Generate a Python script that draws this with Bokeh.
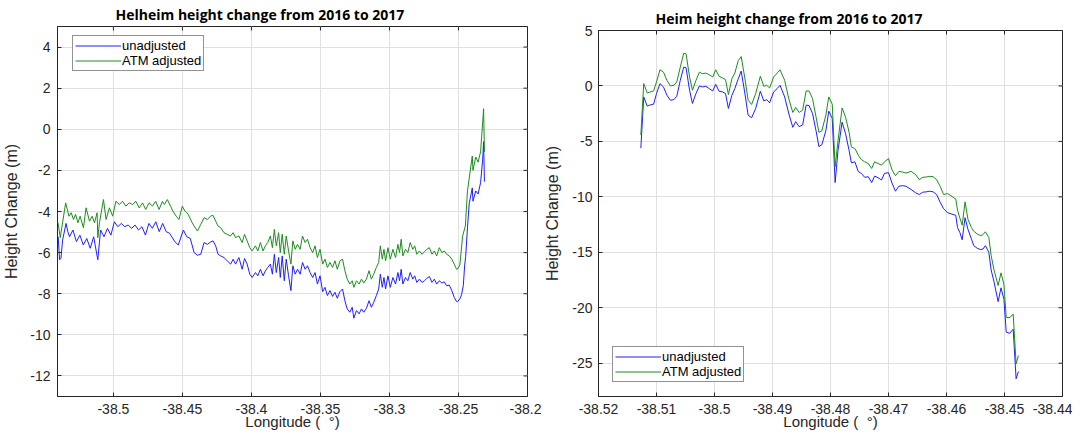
from bokeh.plotting import figure
from bokeh.layouts import row, column
from bokeh.models import FixedTicker, Legend, LegendItem, Range1d, Spacer
from bokeh.embed import file_html
from bokeh.resources import INLINE

# ---------------- data: Helheim (left) ----------------
helheim_lon_unadj = [
    -38.5400, -38.5390, -38.5380, -38.5368, -38.5343, -38.5330, -38.5318, -38.5293, -38.5268, -38.5243,
    -38.5218, -38.5193, -38.5168, -38.5143, -38.5113, -38.5093, -38.5068, -38.5043, -38.5018, -38.4993,
    -38.4968, -38.4943, -38.4918, -38.4893, -38.4868, -38.4843, -38.4818, -38.4793, -38.4768, -38.4743,
    -38.4718, -38.4693, -38.4668, -38.4643, -38.4618, -38.4593, -38.4555, -38.4530, -38.4493, -38.4468,
    -38.4443,
    -38.4415, -38.4391, -38.4367, -38.4343, -38.4319, -38.4295, -38.4278, -38.4259, -38.4242, -38.4223,
    -38.4199, -38.4175, -38.4151, -38.4132, -38.4115, -38.4091, -38.4067, -38.4050, -38.4031, -38.4012,
    -38.3995, -38.3971, -38.3954, -38.3935, -38.3916, -38.3899, -38.3882, -38.3863, -38.3848, -38.3834,
    -38.3820, -38.3803, -38.3791, -38.3777, -38.3762, -38.3748, -38.3731, -38.3714, -38.3700, -38.3683,
    -38.3666, -38.3647, -38.3630, -38.3611, -38.3594, -38.3575, -38.3556, -38.3539, -38.3522, -38.3503,
    -38.3484, -38.3467, -38.3450, -38.3431, -38.3412, -38.3395, -38.3378, -38.3359, -38.3340,
    -38.3323, -38.3306, -38.3287, -38.3270, -38.3258, -38.3239, -38.3220, -38.3203, -38.3186, -38.3167,
    -38.3148, -38.3131, -38.3114, -38.3095, -38.3078, -38.3066, -38.3052, -38.3040, -38.3028, -38.3011,
    -38.2994, -38.2975, -38.2956, -38.2939, -38.2927, -38.2915, -38.2903, -38.2884, -38.2867, -38.2850,
    -38.2831, -38.2817, -38.2802, -38.2783, -38.2764, -38.2747, -38.2730, -38.2711, -38.2692, -38.2675,
    -38.2658, -38.2639, -38.2620, -38.2603, -38.2586, -38.2567, -38.2548, -38.2531, -38.2514,
    -38.2507, -38.2490, -38.2478, -38.2465, -38.2455, -38.2448, -38.2435, -38.2422, -38.2400, -38.2395,
    -38.2375, -38.2358, -38.2340, -38.2325, -38.2318, -38.2312,
]
helheim_unadj = [
    -5.23, -6.35, -6.27, -5.39, -4.58, -4.98, -5.23, -4.90, -5.47, -5.15,
    -5.63, -5.31, -5.79, -5.23, -6.35, -4.90, -5.23, -4.82, -5.15, -4.50,
    -4.74, -4.58, -4.74, -4.66, -4.82, -4.66, -4.90, -4.74, -5.15, -4.58,
    -4.82, -4.50, -4.98, -4.58, -4.98, -5.06, -5.47, -5.63, -4.90, -5.23,
    -5.31,
    -6.00, -6.13, -6.08, -5.51, -5.60, -5.48, -5.43, -5.67, -6.08, -6.16,
    -6.24, -6.40, -6.56, -6.32, -6.56, -6.24, -6.81, -6.29, -6.56, -7.05,
    -7.21, -6.97, -7.13, -6.81, -7.13, -6.89, -6.72, -6.56, -7.05, -6.08,
    -6.97, -6.24, -7.21, -6.16, -7.37, -6.32, -7.13, -7.85, -6.64, -7.05,
    -6.81, -7.05, -6.48, -6.81, -6.64, -6.97, -7.21, -6.97, -7.53, -7.13,
    -7.90, -7.69, -8.09, -7.85, -8.13, -7.93, -8.22, -7.90, -7.77,
    -8.34, -8.74, -8.90, -8.66, -9.19, -8.82, -8.98, -8.74, -8.90, -8.71,
    -8.34, -8.66, -8.42, -8.09, -7.77, -7.05, -7.69, -7.21, -7.77, -7.13,
    -7.69, -7.21, -7.53, -6.97, -7.37, -6.81, -7.53, -7.21, -7.37, -6.97,
    -7.29, -7.13, -7.45, -7.29, -7.45, -7.37, -7.26, -7.16, -7.45, -7.29,
    -7.53, -7.37, -7.48, -7.42, -7.61, -7.58, -7.85, -8.18, -8.38,
    -8.39, -8.25, -8.05, -7.60, -6.60, -6.20, -4.80, -3.60, -2.85, -3.50,
    -3.00, -3.15, -2.60, -1.50, -0.60, -2.55,
]
helheim_lon_adj = [
    -38.5401, -38.5385, -38.5346, -38.5322, -38.5306, -38.5289, -38.5274, -38.5257, -38.5241, -38.5217,
    -38.5198, -38.5173, -38.5154, -38.5137, -38.5118, -38.5113, -38.5101, -38.5072, -38.5053, -38.5029,
    -38.5005, -38.4982, -38.4957, -38.4933, -38.4910, -38.4885, -38.4861, -38.4838, -38.4813, -38.4789,
    -38.4766, -38.4741, -38.4717, -38.4694, -38.4669, -38.4645, -38.4631, -38.4609, -38.4586, -38.4569,
    -38.4545, -38.4525, -38.4501, -38.4482, -38.4458, -38.4429,
    -38.4415, -38.4391, -38.4367, -38.4343, -38.4319, -38.4295, -38.4278, -38.4259, -38.4242, -38.4223,
    -38.4199, -38.4175, -38.4151, -38.4132, -38.4115, -38.4091, -38.4067, -38.4050, -38.4031, -38.4012,
    -38.3995, -38.3971, -38.3954, -38.3935, -38.3916, -38.3899, -38.3882, -38.3863, -38.3848, -38.3834,
    -38.3820, -38.3803, -38.3791, -38.3777, -38.3762, -38.3748, -38.3731, -38.3714, -38.3700, -38.3683,
    -38.3666, -38.3647, -38.3630, -38.3611, -38.3594, -38.3575, -38.3556, -38.3539, -38.3522, -38.3503,
    -38.3484, -38.3467, -38.3450, -38.3431, -38.3412, -38.3395, -38.3378, -38.3359, -38.3340,
    -38.3323, -38.3306, -38.3287, -38.3270, -38.3258, -38.3239, -38.3220, -38.3203, -38.3186, -38.3167,
    -38.3148, -38.3131, -38.3114, -38.3095, -38.3078, -38.3066, -38.3052, -38.3040, -38.3028, -38.3011,
    -38.2994, -38.2975, -38.2956, -38.2939, -38.2927, -38.2915, -38.2903, -38.2884, -38.2867, -38.2850,
    -38.2831, -38.2817, -38.2802, -38.2783, -38.2764, -38.2747, -38.2730, -38.2711, -38.2692, -38.2675,
    -38.2658, -38.2639, -38.2620, -38.2603, -38.2586, -38.2567, -38.2548, -38.2531, -38.2514,
    -38.2507, -38.2490, -38.2470, -38.2450, -38.2435, -38.2400, -38.2395, -38.2375, -38.2358, -38.2340,
    -38.2325, -38.2318, -38.2312,
]
helheim_adj = [
    -4.55, -5.27, -3.58, -4.23, -4.06, -4.39, -4.14, -4.55, -4.23, -4.79,
    -3.82, -4.47, -4.23, -4.55, -4.06, -5.27, -4.55, -3.42, -4.39, -3.82,
    -4.23, -3.50, -3.66, -3.50, -3.74, -3.58, -3.66, -3.50, -3.82, -3.58,
    -3.90, -3.58, -3.74, -3.50, -3.90, -3.50, -3.66, -3.42, -3.74, -3.98,
    -4.23, -4.39, -3.74, -3.98, -4.14, -4.55,
    -4.71, -4.95, -4.63, -4.30, -4.39, -4.22, -4.19, -4.47, -4.71, -4.79,
    -5.03, -5.11, -5.19, -5.03, -5.27, -5.19, -5.51, -5.11, -5.43, -5.76,
    -5.92, -5.67, -5.92, -5.51, -5.92, -5.67, -5.51, -5.19, -5.76, -4.87,
    -5.67, -5.03, -6.00, -5.11, -6.08, -5.19, -5.92, -6.56, -5.43, -5.84,
    -5.60, -5.84, -5.19, -5.51, -5.35, -5.76, -6.00, -5.67, -6.24, -5.84,
    -6.56, -6.32, -6.72, -6.48, -6.72, -6.40, -6.81, -6.40, -6.32,
    -6.88, -7.29, -7.53, -7.37, -7.69, -7.37, -7.53, -7.29, -7.48, -7.29,
    -6.88, -7.29, -7.05, -6.72, -6.48, -5.67, -6.32, -5.84, -6.40, -5.76,
    -6.32, -5.84, -6.24, -5.60, -6.00, -5.35, -6.16, -5.84, -6.00, -5.51,
    -5.84, -5.67, -6.08, -5.92, -6.08, -5.96, -5.84, -5.76, -6.08, -5.92,
    -6.16, -5.76, -6.00, -5.92, -6.08, -6.16, -6.32, -6.56, -6.81,
    -6.80, -6.60, -5.20, -4.70, -3.00, -1.30, -2.00, -1.35, -1.60, -1.10,
    0.30, 1.00, -1.10,
]
helheim_xticks = [-38.5, -38.45, -38.4, -38.35, -38.3, -38.25, -38.2]
helheim_xtick_labels = ["-38.5", "-38.45", "-38.4", "-38.35", "-38.3", "-38.25", "-38.2"]
helheim_yticks = [-12, -10, -8, -6, -4, -2, 0, 2, 4]

# ---------------- data: Heim (right) ----------------
heim_lon = [
    -38.5127, -38.5122, -38.5116, -38.5112, -38.5105, -38.5100, -38.5094, -38.5088, -38.5082, -38.5076,
    -38.5070, -38.5065, -38.5059, -38.5053, -38.5049, -38.5043, -38.5038, -38.5032, -38.5026, -38.5021,
    -38.5015, -38.5009, -38.5003, -38.4998, -38.4992, -38.4986, -38.4981, -38.4976, -38.4970, -38.4965,
    -38.4959, -38.4954, -38.4948, -38.4942, -38.4936, -38.4929, -38.4921, -38.4915, -38.4910, -38.4905,
    -38.4898, -38.4892, -38.4887, -38.4879, -38.4872, -38.4865, -38.4860, -38.4854, -38.4848, -38.4842,
    -38.4837, -38.4831, -38.4825, -38.4820, -38.4815, -38.4808, -38.4803, -38.4797,
    -38.4792, -38.4787, -38.4780, -38.4774, -38.4768, -38.4764, -38.4758, -38.4752, -38.4747, -38.4741,
    -38.4735, -38.4729, -38.4724, -38.4718, -38.4712, -38.4707, -38.4700,
    -38.4694, -38.4688, -38.4682, -38.4676, -38.4670, -38.4661, -38.4653, -38.4647, -38.4641, -38.4635,
    -38.4629, -38.4623, -38.4617, -38.4611, -38.4605,
    -38.4598, -38.4584, -38.4581, -38.4577, -38.4573, -38.4568, -38.4563, -38.4557, -38.4553, -38.4547,
    -38.4541, -38.4537, -38.4533, -38.4527, -38.4523, -38.4518, -38.4511, -38.4506, -38.4501, -38.4497,
    -38.4491, -38.4485, -38.4480, -38.4476,
]
heim_unadj = [
    -5.61, -0.99, -1.82, -1.73, -1.64, -0.69, 0.21, -0.09, -0.84, -1.29,
    -1.23, -0.93, 0.50, 1.70, 1.64, -0.39, -1.58, -0.69, 0.00, -0.09,
    -0.03, -0.24, -0.45, 0.15, -0.48, -0.54, -0.69, -2.03, -0.84, -0.24,
    0.65, 1.34, -0.54, -2.63, -2.87, -2.03, -0.48, -1.35, -1.23, -1.52,
    -0.54, -0.24, 0.06, -0.99, -2.48, -3.73, -3.22, -3.67, -3.52, -1.73,
    -1.76, -2.48, -4.03, -5.46, -5.31, -4.03, -2.27, -2.93,
    -8.71, -5.80, -3.27, -4.31, -5.80, -6.93, -6.84, -7.73, -7.88, -8.24,
    -8.18, -8.71, -8.13, -8.27, -8.48, -7.88, -7.82,
    -8.75, -9.49, -9.04, -8.99, -9.04, -9.34, -9.64, -9.79, -9.58, -9.55,
    -9.49, -9.55, -9.79, -10.48, -11.07,
    -11.43, -11.67, -12.77, -13.21, -13.87, -11.88, -12.92, -13.81, -14.40, -14.64,
    -14.76, -14.70, -14.40, -15.00, -16.60, -17.68, -19.45, -18.20, -19.24, -22.20,
    -22.30, -21.93, -26.40, -25.75,
]
heim_adj = [
    -4.42, 0.21, -0.63, -0.57, -0.45, 0.36, 1.46, 1.25, 0.50, 0.00,
    0.06, 0.36, 1.70, 2.95, 2.89, 0.81, -0.39, 0.50, 1.25, 1.10,
    1.16, 1.01, 0.81, 1.46, 0.87, 0.72, 0.57, -0.78, 0.66, 1.16,
    2.29, 2.65, 0.81, -1.29, -1.67, -0.69, 0.87, -0.03, 0.06, -0.18,
    0.81, 1.16, 1.46, 0.50, -1.14, -2.39, -1.94, -2.39, -2.18, -0.45,
    -0.45, -1.14, -2.78, -4.18, -4.06, -2.63, -0.99, -1.64,
    -7.29, -4.91, -1.99, -2.82, -4.16, -5.50, -5.64, -6.25, -6.63, -6.84,
    -6.99, -7.44, -6.84, -6.99, -7.14, -6.84, -6.55,
    -7.55, -8.09, -7.70, -7.76, -7.85, -7.70, -8.00, -8.45, -8.24, -8.21,
    -8.15, -8.18, -8.45, -9.04, -9.79,
    -9.70, -10.20, -11.20, -11.90, -12.56, -10.45, -12.03, -12.77, -13.10, -13.35,
    -13.50, -13.40, -13.15, -13.66, -15.30, -16.60, -18.00, -16.85, -17.90, -20.88,
    -20.88, -20.58, -25.06, -24.31,
]
heim_xticks = [-38.52, -38.51, -38.5, -38.49, -38.48, -38.47, -38.46, -38.45, -38.44]
heim_xtick_labels = ["-38.52", "-38.51", "-38.5", "-38.49", "-38.48", "-38.47", "-38.46", "-38.45", "-38.44"]
heim_yticks = [-25, -20, -15, -10, -5, 0, 5]

series_labels = ["unadjusted", "ATM adjusted"]
series_colors = ["#1f1fff", "#1e8c1e"]
x_label = "Longitude (\u00a0\u00a0\u00b0)"
y_label = "Height Change (m)"

AX = "#262626"
TICK_FONT = "Liberation Sans"


def make_panel(title, title_offset, xr, yr, xticks, xlabels, yticks, width, height,
               bl, br, bt, bb, ytick_standoff, ylab_standoff):
    p = figure(width=width, height=height, x_range=Range1d(*xr), y_range=Range1d(*yr),
               output_backend="svg", toolbar_location=None,
               min_border_left=bl, min_border_right=br, min_border_top=bt, min_border_bottom=bb)
    fw = width - bl - br
    fh = height - bt - bb
    ux = (xr[1] - xr[0]) / fw   # data units per pixel
    uy = (yr[1] - yr[0]) / fh

    p.background_fill_color = "white"
    p.border_fill_color = "white"
    p.outline_line_color = AX
    p.outline_line_width = 1

    p.title.text = title
    p.title.align = "left"
    p.title.offset = title_offset
    p.title.text_font = "Open Sans"
    p.title.text_font_style = "bold"
    p.title.text_font_size = "14px"
    p.title.text_color = "black"
    p.title.standoff = 5

    xt = FixedTicker(ticks=xticks)
    yt = FixedTicker(ticks=yticks)
    xa = p.xaxis[0]
    ya = p.yaxis[0]
    xa.ticker = xt
    ya.ticker = yt
    xa.major_label_overrides = {t: l for t, l in zip(xticks, xlabels)}
    ya.major_label_overrides = {t: str(t) for t in yticks}
    for ax in (xa, ya):
        ax.axis_line_color = AX
        ax.major_tick_in = 4
        ax.major_tick_out = 0
        ax.major_tick_line_color = AX
        ax.minor_tick_line_color = None
        ax.major_label_text_font = TICK_FONT
        ax.major_label_text_font_size = "14px"
        ax.major_label_text_color = AX
        ax.axis_label_text_font = TICK_FONT
        ax.axis_label_text_font_style = "normal"
        ax.axis_label_text_color = AX
    xa.axis_label = x_label
    xa.axis_label_text_font_size = "15px"
    xa.major_label_standoff = 7
    xa.axis_label_standoff = -4
    ya.axis_label = y_label
    ya.axis_label_text_font_size = "16px"
    ya.major_label_standoff = ytick_standoff
    ya.axis_label_standoff = ylab_standoff

    p.xgrid.ticker = xt
    p.ygrid.ticker = yt
    p.xgrid.grid_line_color = "#e0e0e0"
    p.ygrid.grid_line_color = "#e0e0e0"

    # inward tick marks on the top and right edges of the box
    p.segment(x0=xticks, y0=[yr[1]] * len(xticks), x1=xticks, y1=[yr[1] - 4 * uy] * len(xticks),
              line_color=AX, line_width=1)
    p.segment(x0=[xr[1]] * len(yticks), y0=yticks, x1=[xr[1] - 4 * ux] * len(yticks), y1=yticks,
              line_color=AX, line_width=1)
    return p


left = make_panel("Helheim height change from 2016 to 2017", 58,
                  (-38.5405, -38.2), (-13, 5), helheim_xticks, helheim_xtick_labels, helheim_yticks,
                  541, 432, 54, 14, 25, 35, 7, 7)
r1 = left.line(helheim_lon_unadj, helheim_unadj, line_color=series_colors[0], line_width=1)
r2 = left.line(helheim_lon_adj, helheim_adj, line_color=series_colors[1], line_width=1)

right = make_panel("Heim height change from 2016 to 2017", 57,
                   (-38.52, -38.44), (-28, 5), heim_xticks, heim_xtick_labels, heim_yticks,
                   531, 428, 53, 10, 25, 35, 6, 8)
r3 = right.line(heim_lon, heim_unadj, line_color=series_colors[0], line_width=1)
r4 = right.line(heim_lon, heim_adj, line_color=series_colors[1], line_width=1)


def add_legend(p, rs, loc):
    lg = Legend(items=[LegendItem(label=series_labels[i], renderers=[rs[i]]) for i in range(2)],
                location=loc, orientation="vertical")
    lg.border_line_color = AX
    lg.border_line_width = 1
    lg.background_fill_color = "white"
    lg.background_fill_alpha = 1
    lg.label_text_font = TICK_FONT
    lg.label_text_font_size = "13px"
    lg.label_text_color = "black"
    lg.glyph_width = 46
    lg.glyph_height = 13
    lg.label_height = 13
    lg.label_standoff = 1
    lg.spacing = 0
    lg.padding = 2
    lg.margin = 0
    p.add_layout(lg)


add_legend(left, [r1, r2], (15, 325))
add_legend(right, [r3, r4], (14, 14))

layout = row(left, column(Spacer(width=531, height=4), right, spacing=0), spacing=0)
open("out.html", "w").write(file_html(layout, INLINE))
